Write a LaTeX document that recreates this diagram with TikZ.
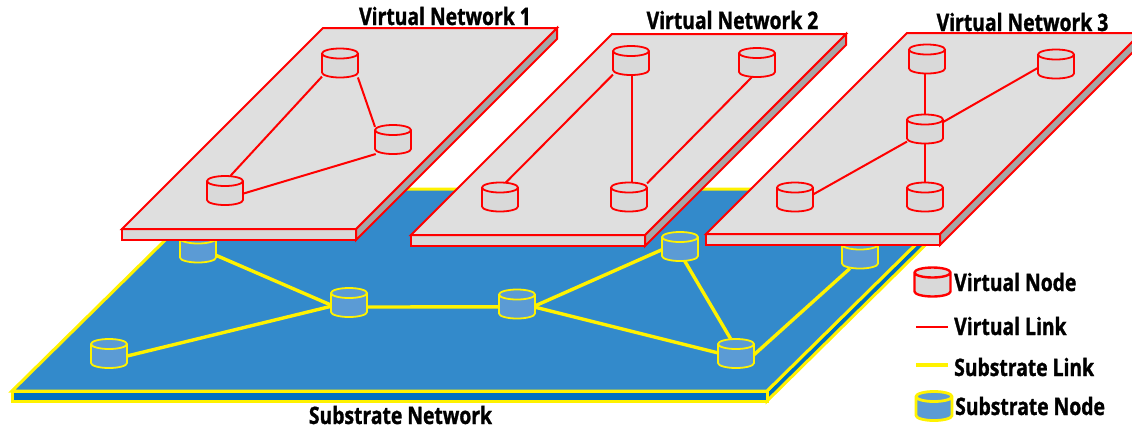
\documentclass[tikz,border=0pt]{standalone}
\usepackage{fontspec}
\setmainfont[FakeStretch=0.805,BoldFeatures={FakeBold=1.2}]{Open Sans}
\usetikzlibrary{shapes.geometric}
\definecolor{subtop}{HTML}{338ACB}
\definecolor{subside}{HTML}{0070C0}
\definecolor{subnode}{HTML}{5B9BD5}
\definecolor{vtop}{HTML}{DFDFDF}
\definecolor{vfront}{HTML}{D9D9D9}
\definecolor{vside}{HTML}{A6A6A6}
\tikzset{
  cylbox/.style n args={3}{shape=rectangle,minimum width=36pt,minimum height=29pt,inner sep=0pt,outer sep=0pt,
    append after command={\pgfextra{\let\LN\tikzlastnode
      \draw[draw=#1,fill=#2,line width=#3,line join=round]
        ([yshift=-5pt]\LN.north west) -- ([yshift=5pt]\LN.south west)
        arc[start angle=180,end angle=360,x radius=18pt,y radius=5pt]
        -- ([yshift=-5pt]\LN.north east)
        arc[start angle=0,end angle=180,x radius=18pt,y radius=5pt] -- cycle
        ([yshift=-5pt]\LN.north west)
        arc[start angle=180,end angle=360,x radius=18pt,y radius=5pt];
    }}},
  vnode/.style={cylbox={red}{vfront}{1.8pt}},
  snode/.style={cylbox={yellow}{subnode}{1.8pt}},
  vlink/.style={draw=red,line width=2pt},
  slink/.style={draw=yellow,line width=3.4pt},
  vface/.style={draw=red,line width=2pt,line join=miter},
  sface/.style={draw=yellow,line width=3pt,line join=miter},
  lab/.style={font=\bfseries\fontsize{24}{26}\selectfont,text=black,inner sep=0pt},
  leg/.style={lab,anchor=west}
}
\newcommand{\vplane}[2]{%
 \begin{scope}[shift={(#1,#2)}]
  \draw[vface,fill=vside] (234,201) -- (435,0) -- (435,11) -- (234,212) -- cycle;
  \draw[vface,fill=vfront] (0,201) -- (234,201) -- (234,212) -- (0,212) -- cycle;
  \draw[vface,fill=vtop] (0,201) -- (234,201) -- (435,0) -- (201,0) -- cycle;
 \end{scope}}
\begin{document}
\begin{tikzpicture}[x=1pt,y=-1pt]
\useasboundingbox (0,0) rectangle (1132,429);
\clip (0,0) rectangle (1132,429);
% substrate
\draw[sface,fill=subside] (767,391) -- (972,189) -- (972,199) -- (767,401) -- cycle;
\draw[sface,fill=subside] (12,391) -- (767,391) -- (767,401) -- (12,401) -- cycle;
\draw[sface,fill=subtop] (12,391) -- (767,391) -- (972,189) -- (217,189) -- cycle;
\node[snode] (m) at (198,248) {};
\node[snode] (n) at (109,353.5) {};
\node[snode] (o) at (349,302.5) {};
\node[snode] (p) at (517,304) {};
\node[snode] (q) at (680,246.5) {};
\node[snode] (r) at (736,353.5) {};
\node[snode] (s) at (860,254) {};
\draw[slink] (m.-22) -- (o.188);
\draw[slink] (n.-8) -- (o.192);
\draw[slink] (o.-14) -- (p.189.5);
\draw[slink] (p.-6) -- (q.190);
\draw[slink] (p.-10) -- (r.178);
\draw[slink] (q.-72) -- (r.110);
\draw[slink] (r.-4) -- (s.-125);
% virtual planes
\vplane{122}{28}
\vplane{411}{34}
\vplane{706}{33}
% VN1
\node[vnode] (a) at (340,63) {};
\node[vnode] (b) at (393,139.5) {};
\node[vnode] (c) at (225,190.5) {};
\draw[vlink] (a.217) -- (c.70);
\draw[vlink] (a.-39) -- (b.145);
\draw[vlink] (c.-10) -- (b.220);
% VN2
\node[vnode] (d) at (631,60.5) {};
\node[vnode] (e) at (757,62.5) {};
\node[vnode] (f) at (500,197) {};
\node[vnode] (g) at (629,197) {};
\draw[vlink] (d.218) -- (f.68);
\draw[vlink] ([xshift=3pt]g.north |- d.south) -- ([xshift=3pt]g.north);
\draw[vlink] (e.251) -- (g.37);
% VN3
\node[vnode] (h) at (927,59) {};
\node[vnode] (i) at (1056,64) {};
\node[vnode] (j) at (925,129) {};
\node[vnode] (k) at (795,197) {};
\node[vnode] (l) at (925,197) {};
\draw[vlink] (j.north |- h.south) -- (j.north);
\draw[vlink] (i.192) -- (j.21);
\draw[vlink] (j.215) -- (k.8);
\draw[vlink] (j) -- (l);
% legend
\node[cylbox={red}{vfront}{2.4pt}] (lv) at (932.5,282) {};
\node[cylbox={yellow}{subnode}{2.8pt}] (ls) at (934,406) {};
\coordinate (la) at (916,327);
\coordinate (lb) at (948,327);
\coordinate (lc) at (916,365);
\coordinate (ld) at (948,365);
\draw[vlink] (la) -- (lb);
\draw[slink] (lc) -- (ld);
\node[leg] (t1) at (954,282) {Virtual Node};
\node[leg] (t2) at (954,326) {Virtual Link};
\node[leg] (t3) at (954,367) {Substrate Link};
\node[leg] (t4) at (955,406) {Substrate Node};
% titles
\node[lab] (t5) at (445,16) {Virtual Network 1};
\node[lab] (t6) at (732.5,20) {Virtual Network 2};
\node[lab] (t7) at (1022.5,22) {Virtual Network 3};
\node[lab] (t8) at (400.5,415) {Substrate Network};
\end{tikzpicture}
\end{document}
